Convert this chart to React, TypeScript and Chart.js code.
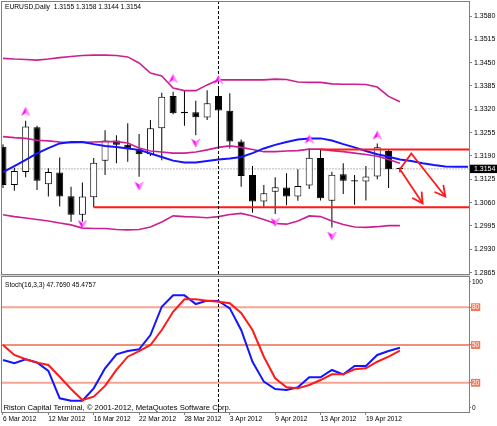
import React, { useEffect, useRef } from 'react';
import { Chart, registerables } from 'chart.js';

Chart.register(...registerables);

// ---------------- data ----------------
const symbolName = 'EURUSD';
const periodName = 'Daily';

const opens = [1.3216, 1.3109, 1.3145, 1.3270, 1.3111, 1.3144, 1.3078, 1.3026, 1.3075, 1.3177, 1.3233, 1.3221, 1.3209, 1.3195, 1.3267, 1.3357, 1.3309, 1.3312, 1.3297, 1.3357, 1.3316, 1.3230, 1.3137, 1.3063, 1.3090, 1.3102, 1.3077, 1.3108, 1.3184, 1.3065, 1.3139, 1.3122, 1.3119, 1.3133, 1.3204, 1.3155];
const highs = [1.3223, 1.3157, 1.3288, 1.3274, 1.3156, 1.3186, 1.3104, 1.3116, 1.3184, 1.3262, 1.3248, 1.3281, 1.3251, 1.3290, 1.3366, 1.3369, 1.3372, 1.3344, 1.3373, 1.3385, 1.3365, 1.3236, 1.3162, 1.3109, 1.3131, 1.3142, 1.3153, 1.3211, 1.3207, 1.3146, 1.3170, 1.3137, 1.3162, 1.3225, 1.3209, 1.3158];
const lows = [1.3101, 1.3093, 1.3131, 1.3095, 1.3077, 1.3049, 1.3007, 1.3007, 1.3047, 1.3137, 1.3170, 1.3174, 1.3132, 1.3190, 1.3178, 1.3306, 1.3274, 1.3248, 1.3290, 1.3218, 1.3211, 1.3104, 1.3032, 1.3047, 1.3028, 1.3053, 1.3065, 1.3098, 1.3066, 1.2991, 1.3084, 1.3054, 1.3066, 1.3125, 1.3101, 1.3144];
const closes = [1.3109, 1.3148, 1.3272, 1.3121, 1.3145, 1.3077, 1.3026, 1.3077, 1.3171, 1.3233, 1.3221, 1.3211, 1.3195, 1.3267, 1.3355, 1.3309, 1.3313, 1.3298, 1.3337, 1.3317, 1.3230, 1.3134, 1.3063, 1.3086, 1.3103, 1.3077, 1.3106, 1.3185, 1.3072, 1.3138, 1.3121, 1.3119, 1.3133, 1.3214, 1.3153, 1.3154];

const upperBand = [1.3462, 1.3460, 1.3459, 1.3457, 1.3460, 1.3464, 1.3467, 1.3470, 1.3471, 1.3471, 1.3470, 1.3466, 1.3449, 1.3421, 1.3413, 1.3379, 1.3372, 1.3372, 1.3388, 1.3402, 1.3402, 1.3402, 1.3402, 1.3402, 1.3404, 1.3403, 1.3396, 1.3395, 1.3395, 1.3391, 1.3390, 1.3390, 1.3389, 1.3382, 1.3356, 1.3341];
const middleBand = [1.3244, 1.3241, 1.3239, 1.3234, 1.3232, 1.3229, 1.3227, 1.3228, 1.3229, 1.3230, 1.3230, 1.3226, 1.3212, 1.3204, 1.3201, 1.3198, 1.3198, 1.3201, 1.3207, 1.3214, 1.3218, 1.3214, 1.3208, 1.3202, 1.3202, 1.3204, 1.3205, 1.3209, 1.3209, 1.3205, 1.3202, 1.3198, 1.3194, 1.3189, 1.3180, 1.3170];
const lowerBand = [1.3026, 1.3021, 1.3017, 1.3013, 1.3009, 1.3003, 1.2998, 1.2989, 1.2988, 1.2988, 1.2985, 1.2984, 1.2985, 1.2992, 1.3006, 1.3023, 1.3021, 1.3020, 1.3018, 1.3021, 1.3027, 1.3030, 1.3023, 1.3013, 1.3002, 1.3000, 1.3009, 1.3023, 1.3021, 1.3009, 1.2999, 1.2992, 1.2991, 1.2993, 1.2996, 1.2996];
const maLine = [1.3145, 1.3162, 1.3179, 1.3197, 1.3212, 1.3225, 1.3229, 1.3229, 1.3223, 1.3218, 1.3215, 1.3211, 1.3207, 1.3197, 1.3187, 1.3177, 1.3172, 1.3172, 1.3176, 1.3180, 1.3183, 1.3187, 1.3198, 1.3211, 1.3221, 1.3229, 1.3236, 1.3239, 1.3239, 1.3233, 1.3223, 1.3214, 1.3204, 1.3195, 1.3188, 1.3180, 1.3176, 1.3170, 1.3165, 1.3161, 1.3160, 1.3160];

const fractalUpIdx = [2, 15, 19, 27, 33];
const fractalUpPrice = [1.3314, 1.3406, 1.3403, 1.3237, 1.3248];
const fractalDownIdx = [7, 12, 17, 24, 29];
const fractalDownPrice = [1.2999, 1.3106, 1.3226, 1.3005, 1.2967];

const supportStartIdx = 8;
const supportPrice = 1.3047;
const resistanceStartIdx = 28;
const resistancePrice = 1.3208;

const arrowPathA = [[35, 1.3153], [36, 1.3197], [39, 1.3077]];
const arrowPathB = [[35, 1.3153], [37, 1.3058]];

const separatorIdx = 19;

const priceTicks = [1.3580, 1.3515, 1.3450, 1.3385, 1.3320, 1.3255, 1.3190, 1.3125, 1.3060, 1.2995, 1.2930, 1.2865];

const stochK = [38.1, 35.5, 38.7, 36.1, 29.4, 7.7, 5.8, 5.8, 15.6, 31.5, 42.6, 45.2, 46.6, 57.9, 80.4, 89.4, 89.4, 82.5, 85.2, 84.9, 79.1, 61.9, 36.7, 20.9, 15.1, 14.3, 16.4, 24.4, 24.4, 30.2, 26.7, 33.3, 33.3, 42.1, 45.2, 47.769];
const stochD = [50.0, 42.1, 38.7, 36.0, 34.1, 24.8, 15.1, 6.3, 9.0, 17.5, 30.2, 40.7, 45.2, 50.0, 61.9, 76.4, 86.3, 86.3, 85.2, 84.4, 83.1, 75.4, 61.9, 40.7, 23.6, 16.4, 15.6, 18.3, 22.2, 26.7, 26.7, 30.7, 31.5, 36.7, 40.7, 45.4757];
const stochLevels = [80, 50, 20];
const stochTicks = [100, 80, 50, 20, 0];
const stochName = 'Stoch(16,3,3)';

const dateTickIdx = [0, 4, 8, 12, 16, 20, 24, 28, 32];
const dateLabels = ['6 Mar 2012', '12 Mar 2012', '16 Mar 2012', '22 Mar 2012', '28 Mar 2012', '3 Apr 2012', '9 Apr 2012', '13 Apr 2012', '19 Apr 2012'];

const copyrightText = 'Riston Capital Terminal, \u00a9 2001-2012, MetaQuotes Software Corp.';

// ---------------- styling ----------------
const FONT = "'Liberation Sans', Arial, sans-serif";
const X_MIN = -0.088;
const X_MAX = 41.09;
const P_MIN = 1.286113;
const P_MAX = 1.361901;
const S_MIN = -3.175;
const S_MAX = 103.968;
const MAG = '#cc2090';
const BLUE = '#1414ff';
const RED = '#ff1a1a';
const FRAME = '#808080';

const pts = (arr: number[]) => arr.map((y, x) => ({ x, y }));
const hline = (x0: number, y: number) => [{ x: x0, y }, { x: X_MAX, y }];

function makeArrow(up: boolean) {
  const c = document.createElement('canvas');
  c.width = 11;
  c.height = 10;
  const g = c.getContext('2d')!;
  g.fillStyle = '#ff00ff';
  g.beginPath();
  if (up) {
    g.moveTo(5.5, 0.5); g.lineTo(10.2, 9.5); g.lineTo(5.5, 6.5); g.lineTo(0.8, 9.5);
  } else {
    g.moveTo(5.5, 9.5); g.lineTo(10.2, 0.5); g.lineTo(5.5, 3.5); g.lineTo(0.8, 0.5);
  }
  g.closePath();
  g.fill();
  g.fillStyle = 'rgba(255,170,255,0.8)';
  g.beginPath();
  if (up) {
    g.moveTo(5.5, 0.5); g.lineTo(10.2, 9.5); g.lineTo(5.5, 6.5);
  } else {
    g.moveTo(5.5, 9.5); g.lineTo(10.2, 0.5); g.lineTo(5.5, 3.5);
  }
  g.closePath();
  g.fill();
  return c;
}

const framePlugin = {
  id: 'frame',
  afterDatasetsDraw(chart: any) {
    const { ctx, chartArea: a } = chart;
    ctx.save();
    ctx.strokeStyle = FRAME;
    ctx.lineWidth = 1;
    ctx.strokeRect(a.left - 0.5, a.top - 0.5, a.right - a.left + 1, a.bottom - a.top + 1);
    ctx.restore();
  },
};

const arrowPlugin = {
  id: 'arrowheads',
  afterDatasetsDraw(chart: any) {
    const xs = chart.scales.x;
    const ys = chart.scales.y;
    const ctx = chart.ctx;
    ctx.save();
    ctx.strokeStyle = RED;
    ctx.lineWidth = 1.8;
    ctx.lineCap = 'round';
    [arrowPathA, arrowPathB].forEach((path) => {
      const [x0, y0] = path[path.length - 2];
      const [x1, y1] = path[path.length - 1];
      const ax = xs.getPixelForValue(x0), ay = ys.getPixelForValue(y0);
      const bx = xs.getPixelForValue(x1), by = ys.getPixelForValue(y1);
      const ang = Math.atan2(by - ay, bx - ax);
      const len = 11, spread = 0.5;
      ctx.beginPath();
      ctx.moveTo(bx - len * Math.cos(ang - spread), by - len * Math.sin(ang - spread));
      ctx.lineTo(bx, by);
      ctx.lineTo(bx - len * Math.cos(ang + spread), by - len * Math.sin(ang + spread));
      ctx.stroke();
    });
    ctx.restore();
  },
};

const mainTextPlugin = {
  id: 'mainText',
  afterDraw(chart: any) {
    const ctx = chart.ctx;
    const n = closes.length - 1;
    const txt = `${symbolName},${periodName}  ${opens[n].toFixed(4)} ${highs[n].toFixed(4)} ${lows[n].toFixed(4)} ${closes[n].toFixed(4)}`;
    ctx.save();
    ctx.fillStyle = '#000';
    ctx.font = `6.7px ${FONT}`;
    ctx.textBaseline = 'middle';
    ctx.fillText(txt, 5, 7.5);
    ctx.restore();
  },
};

const subTextPlugin = {
  id: 'subText',
  beforeDraw(chart: any) {
    const ctx = chart.ctx;
    ctx.save();
    ctx.fillStyle = '#d8d8d8';
    ctx.fillRect(0, 0, 470, 1);
    ctx.restore();
  },
  afterDraw(chart: any) {
    const ctx = chart.ctx;
    const n = stochK.length - 1;
    ctx.save();
    ctx.fillStyle = '#000';
    ctx.textBaseline = 'middle';
    ctx.font = `6.6px ${FONT}`;
    ctx.fillText(`${stochName} ${stochK[n].toFixed(4)} ${stochD[n].toFixed(4)}`, 5, 10);
    ctx.font = `7.7px ${FONT}`;
    ctx.fillText(copyrightText, 3.5, 133);
    ctx.restore();
  },
};

function mainConfig(upImg: HTMLCanvasElement, downImg: HTMLCanvasElement): any {
  const last = closes[closes.length - 1];
  const lineBase = { type: 'line', pointRadius: 0, tension: 0, fill: false };
  return {
    type: 'bar',
    data: {
      datasets: [
        { ...lineBase, data: hline(X_MIN, last), borderColor: '#b8b8b8', borderWidth: 1, borderDash: [2, 1], order: 9 },
        {
          type: 'bar', data: lows.map((l, i) => ({ x: i, y: [l, highs[i]] })), barThickness: 1,
          backgroundColor: '#000', borderWidth: 0, grouped: false, inflateAmount: 0, order: 8,
        },
        {
          type: 'bar', data: opens.map((o, i) => ({ x: i, y: [o, closes[i]] })), barThickness: 7,
          backgroundColor: (c: any) => (closes[c.dataIndex] >= opens[c.dataIndex] ? '#ffffff' : '#000000'),
          borderColor: '#000', borderWidth: 1, borderSkipped: false, grouped: false, inflateAmount: 0,
          minBarLength: 1, order: 7,
        },
        { ...lineBase, data: pts(upperBand), borderColor: MAG, borderWidth: 1.6, order: 6 },
        { ...lineBase, data: pts(middleBand), borderColor: MAG, borderWidth: 1.6, order: 6 },
        { ...lineBase, data: pts(lowerBand), borderColor: MAG, borderWidth: 1.6, order: 6 },
        { ...lineBase, data: pts(maLine), borderColor: BLUE, borderWidth: 2, order: 5 },
        { ...lineBase, data: hline(supportStartIdx, supportPrice), borderColor: RED, borderWidth: 2, order: 4 },
        { ...lineBase, data: hline(resistanceStartIdx, resistancePrice), borderColor: RED, borderWidth: 2, order: 4 },
        { ...lineBase, data: arrowPathA.map(([x, y]) => ({ x, y })), borderColor: RED, borderWidth: 1.8, order: 3 },
        { ...lineBase, data: arrowPathB.map(([x, y]) => ({ x, y })), borderColor: RED, borderWidth: 1.8, order: 3 },
        {
          ...lineBase, data: [{ x: separatorIdx, y: P_MIN }, { x: separatorIdx, y: P_MAX }],
          borderColor: '#000', borderWidth: 1, borderDash: [3, 2], order: 2,
        },
        {
          type: 'line', showLine: false, data: fractalUpIdx.map((x, i) => ({ x, y: fractalUpPrice[i] })),
          pointStyle: upImg, pointRadius: 5, order: 1,
        },
        {
          type: 'line', showLine: false, data: fractalDownIdx.map((x, i) => ({ x, y: fractalDownPrice[i] })),
          pointStyle: downImg, pointRadius: 5, order: 1,
        },
      ],
    },
    options: {
      animation: false,
      responsive: false,
      devicePixelRatio: 1,
      events: [],
      layout: { padding: { left: 2, top: 2, right: 0, bottom: 1 }, autoPadding: false },
      plugins: { legend: { display: false }, tooltip: { enabled: false }, title: { display: false } },
      scales: {
        x: { type: 'linear', min: X_MIN, max: X_MAX, display: false, offset: false },
        y: {
          type: 'linear', position: 'right', min: P_MIN, max: P_MAX,
          afterBuildTicks: (s: any) => { s.ticks = [...priceTicks, last].map((value) => ({ value })); },
          afterFit: (s: any) => { s.width = 28; s.paddingTop = 0; s.paddingBottom = 0; },
          ticks: {
            autoSkip: false, padding: 2,
            font: { family: FONT, size: 7 },
            color: (c: any) => (c.tick && c.tick.value === last ? '#ffffff' : '#000000'),
            showLabelBackdrop: (c: any) => !!(c.tick && c.tick.value === last),
            backdropColor: '#000',
            backdropPadding: { left: 5, right: 3, top: 0, bottom: 0 },
            callback: (v: any) => Number(v).toFixed(4),
          },
          grid: { drawOnChartArea: false, drawTicks: true, tickLength: 3, color: FRAME },
          border: { display: true, color: FRAME },
        },
      },
    },
    plugins: [framePlugin, arrowPlugin, mainTextPlugin],
  };
}

function subConfig(): any {
  const lineBase = { type: 'line', pointRadius: 0, tension: 0, fill: false };
  return {
    type: 'line',
    data: {
      datasets: [
        { ...lineBase, data: hline(X_MIN, stochLevels[0]), borderColor: '#f5a592', borderWidth: 2, order: 5 },
        { ...lineBase, data: hline(X_MIN, stochLevels[1]), borderColor: '#ee6a4c', borderWidth: 1.5, order: 5 },
        { ...lineBase, data: hline(X_MIN, stochLevels[2]), borderColor: '#f5a592', borderWidth: 2, order: 5 },
        {
          ...lineBase, data: [{ x: separatorIdx, y: S_MIN }, { x: separatorIdx, y: S_MAX }],
          borderColor: '#000', borderWidth: 1, borderDash: [3, 2], order: 4,
        },
        { ...lineBase, data: pts(stochK), borderColor: BLUE, borderWidth: 2, order: 1 },
        { ...lineBase, data: pts(stochD), borderColor: RED, borderWidth: 2, order: 0 },
      ],
    },
    options: {
      animation: false,
      responsive: false,
      devicePixelRatio: 1,
      events: [],
      layout: { padding: { left: 2, top: 2, right: 0, bottom: 0 }, autoPadding: false },
      plugins: { legend: { display: false }, tooltip: { enabled: false }, title: { display: false } },
      scales: {
        x: {
          type: 'linear', position: 'bottom', min: X_MIN, max: X_MAX, offset: false,
          afterBuildTicks: (s: any) => { s.ticks = dateTickIdx.map((value) => ({ value })); },
          afterFit: (s: any) => { s.height = 14; s.paddingLeft = 0; s.paddingRight = 0; },
          ticks: {
            autoSkip: false, maxRotation: 0, minRotation: 0, align: 'start', padding: 0,
            font: { family: FONT, size: 6.6 }, color: '#000',
            callback: (v: any) => dateLabels[dateTickIdx.indexOf(Number(v))] ?? '',
          },
          grid: { drawOnChartArea: false, drawTicks: true, tickLength: 3, color: FRAME },
          border: { display: true, color: FRAME },
        },
        y: {
          type: 'linear', position: 'right', min: S_MIN, max: S_MAX,
          afterBuildTicks: (s: any) => { s.ticks = stochTicks.map((value) => ({ value })); },
          afterFit: (s: any) => { s.width = 28; s.paddingTop = 0; s.paddingBottom = 0; },
          ticks: {
            autoSkip: false, padding: 1,
            font: { family: FONT, size: 6.5 },
            color: (c: any) => (c.tick && stochLevels.includes(c.tick.value) ? '#ffffff' : '#000000'),
            showLabelBackdrop: (c: any) => !!(c.tick && stochLevels.includes(c.tick.value)),
            backdropColor: '#f07a58',
            backdropPadding: { left: 1, right: 1, top: 0, bottom: 0 },
            callback: (v: any) => String(v),
          },
          grid: { drawOnChartArea: false, drawTicks: true, tickLength: 2, color: FRAME },
          border: { display: true, color: FRAME },
        },
      },
    },
    plugins: [framePlugin, subTextPlugin],
  };
}

export default function App() {
  const mainRef = useRef<HTMLCanvasElement>(null);
  const subRef = useRef<HTMLCanvasElement>(null);

  useEffect(() => {
    const upImg = makeArrow(true);
    const downImg = makeArrow(false);
    const main = new Chart(mainRef.current!, mainConfig(upImg, downImg));
    const sub = new Chart(subRef.current!, subConfig());
    return () => {
      main.destroy();
      sub.destroy();
    };
  }, []);

  return (
    <div style={{ position: 'absolute', left: 0, top: 0, width: 497, height: 426, background: '#fff', overflow: 'hidden' }}>
      <canvas ref={mainRef} width={497} height={275} style={{ position: 'absolute', left: 0, top: 0 }} />
      <canvas ref={subRef} width={497} height={151} style={{ position: 'absolute', left: 0, top: 275 }} />
    </div>
  );
}
